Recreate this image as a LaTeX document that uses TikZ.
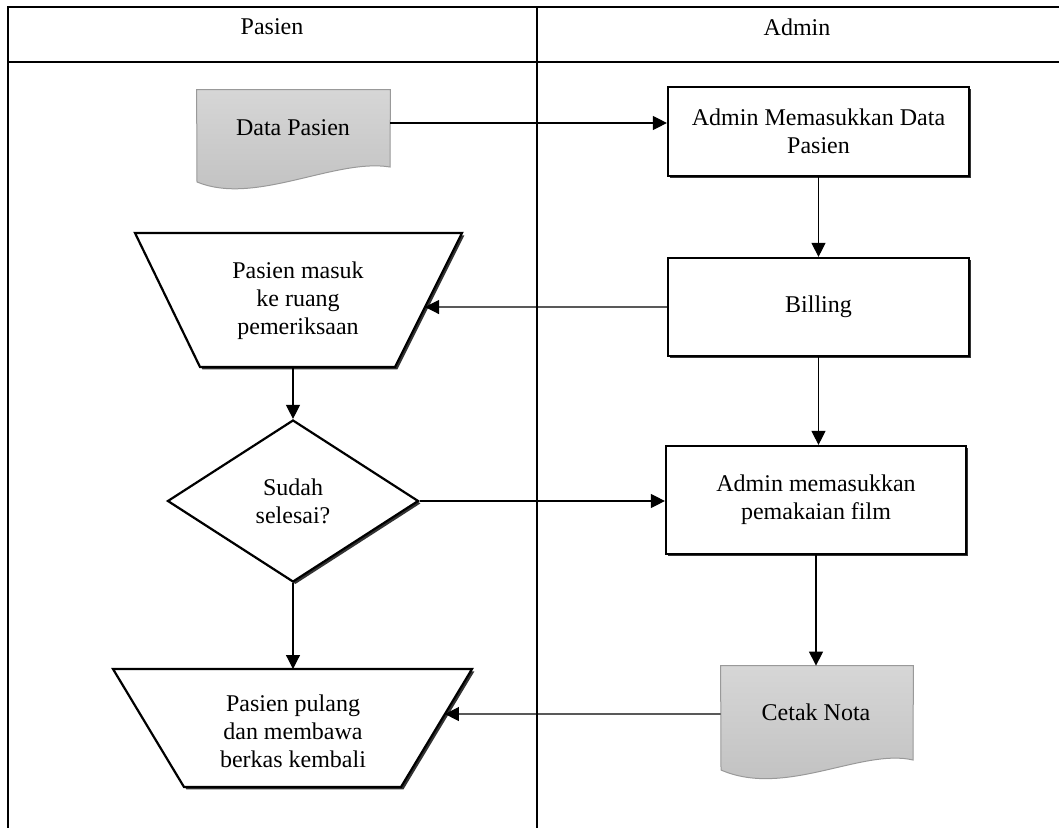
\documentclass[tikz,border=0pt]{standalone}
\usepackage{fontspec}
\setmainfont{Liberation Serif}
\usetikzlibrary{shapes.geometric,arrows.meta,shadows,calc}
\begin{document}
\begin{tikzpicture}[x=0.5pt,y=-0.5pt,
  font=\fontsize{12}{14}\selectfont,
  tbl/.style={line width=1pt},
  shad/.style={drop shadow={shadow xshift=1.2pt, shadow yshift=-1.2pt, fill=black!80, opacity=1}},
  proc/.style={draw, line width=1.1pt, fill=white, shad, align=center, inner sep=0pt},
  outl/.style={draw, line width=1.1pt, fill=white, shad, line join=miter},
  docshape/.style={draw=black!40, line width=0.5pt, top color=black!16, bottom color=black!25},
  frame/.style={inner sep=0pt},
  txt/.style={align=center, inner sep=0pt},
  arr/.style={line width=0.6pt, -{Triangle[length=7pt,width=7pt]}}
]
\useasboundingbox (0,0) rectangle (1059,828);
% table
\draw[tbl] (8,828) -- (8,7) -- (1059,7);
\draw[tbl] (8,62) -- (1059,62);
\draw[tbl] (537,7) -- (537,828);
\node[txt] (hp) at (272,27) {Pasien};
\node[txt] (ha) at (797,27) {Admin};

% Data Pasien document
\node[frame, minimum width=96.5pt, minimum height=46pt] (dp) at (293.5,136) {};
\path[docshape] (dp.north west) -- (dp.north east) -- (390,167)
  .. controls (335,158) and (255,206) .. (197,182) -- cycle;
\node[txt] (dpt) at (293,128) {Data Pasien};

% Admin boxes
\node[proc, minimum width=150.5pt, minimum height=44.5pt] (b1) at (818.5,131.5) {Admin Memasukkan Data\\Pasien};
\node[proc, minimum width=150.5pt, minimum height=49pt] (bill) at (818.5,307) {Billing};
\node[proc, minimum width=150pt, minimum height=54pt] (b3) at (816,500) {Admin memasukkan\\pemakaian film};

% Cetak Nota document
\node[frame, minimum width=96pt, minimum height=54.5pt] (cn) at (817,720.5) {};
\path[docshape] (cn.north west) -- (cn.north east) -- (913,760)
  .. controls (862,748) and (785,798) .. (721,770) -- cycle;
\node[txt] (cnt) at (816,712) {Cetak Nota};

% Trapezium 1
\coordinate (t1a) at (135,233);
\coordinate (t1b) at (462,233);
\coordinate (t1c) at (395,367);
\coordinate (t1d) at (200,367);
\path[outl] (t1a) -- (t1b) -- (t1c) -- (t1d) -- cycle;
\node[txt] (t1) at (298,301) {Pasien masuk\\ke ruang\\pemeriksaan};

% Diamond
\node[diamond, draw, line width=1.1pt, fill=white, shad, inner sep=0pt, aspect=1.55,
  minimum width=125.5pt, minimum height=81pt, align=center] (dia) at (293,501) {Sudah\\selesai?};

% Trapezium 2
\coordinate (t2a) at (113,669);
\coordinate (t2b) at (472,669);
\coordinate (t2c) at (401,787);
\coordinate (t2d) at (184,787);
\path[outl] (t2a) -- (t2b) -- (t2c) -- (t2d) -- cycle;
\node[txt] (t2) at (293,731) {Pasien pulang\\dan membawa\\berkas kembali};

% connectors
\coordinate (dpo) at ($(dp.east)+(0,-13)$);
\draw[arr] (dpo) -- (dpo -| b1.west);
\draw[arr] (b1.south) -- (bill.north);
\coordinate (t1h) at (bill.west -| t1a);
\coordinate (t1r) at (intersection of t1b--t1c and bill.west--t1h);
\draw[arr] (bill.west) -- (t1r);
\draw[arr] (bill.south) -- (bill.south |- b3.north);
\coordinate (t1s) at (dia.north |- t1d);
\draw[arr] (t1s) -- (dia.north);
\draw[arr] (dia.east) -- (dia.east -| b3.west);
\draw[arr] (dia.south) -- (dia.south |- t2a);
\draw[arr] (b3.south) -- (b3.south |- cn.north);
\coordinate (cno) at ($(cn.west)+(0,-6.5)$);
\coordinate (t2h) at (cno -| t2a);
\coordinate (t2r) at (intersection of t2b--t2c and cno--t2h);
\draw[arr] (cno) -- (t2r);
\end{tikzpicture}
\end{document}
